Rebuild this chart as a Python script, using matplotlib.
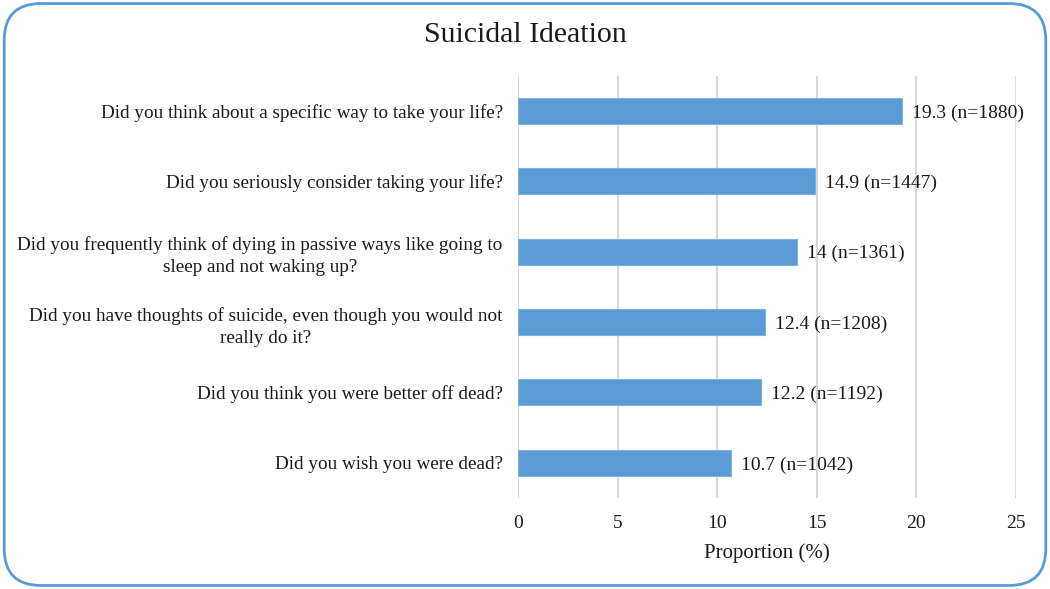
import matplotlib
matplotlib.use("Agg")
import matplotlib.pyplot as plt
from matplotlib.patches import FancyBboxPatch

categories = [
    "Did you think about a specific way to take your life?",
    "Did you seriously consider taking your life?",
    "Did you frequently think of dying in passive ways like going to\nsleep and not waking up?",
    "Did you have thoughts of suicide, even though you would not\nreally do it?",
    "Did you think you were better off dead?",
    "Did you wish you were dead?",
]
values = [19.3, 14.9, 14.0, 12.4, 12.2, 10.7]
counts = [1880, 1447, 1361, 1208, 1192, 1042]
value_labels = ["19.3", "14.9", "14", "12.4", "12.2", "10.7"]
xticks = [0, 5, 10, 15, 20, 25]

plt.rcParams['font.family'] = ['Liberation Serif', 'DejaVu Serif']

fig = plt.figure(figsize=(10.5, 5.89), dpi=100)
ax = fig.add_axes([0.4933, 0.1545, 0.4743, 0.7168])

ypos = list(range(len(categories)))
ax.barh(ypos, values, height=0.37, color='#5B9BD5', edgecolor='#7FB2E0', linewidth=0.8, zorder=3)
for y, v, lab, n in zip(ypos, values, value_labels, counts):
    ax.text(v + 0.5, y, f"{lab} (n={n})", va='center_baseline', ha='left', fontsize=14, color='#1a1a1a')

ax.set_yticks(ypos)
ax.set_yticklabels(categories, fontsize=13.8, color='#1a1a1a')
for lbl in ax.get_yticklabels():
    lbl.set_multialignment('center')
    lbl.set_linespacing(1.4)
ax.set_ylim(len(categories) - 0.5, -0.5)
ax.set_xlim(0, 25)
ax.set_xticks(xticks)
ax.set_xticklabels([str(t) for t in xticks], fontsize=14, color='#1a1a1a')
ax.tick_params(axis='both', length=0)
ax.tick_params(axis='x', pad=12)
ax.tick_params(axis='y', pad=11)
ax.grid(axis='x', color='#D9D9D9', linewidth=1.5, zorder=0)
for s in ax.spines.values():
    s.set_visible(False)
ax.set_xlabel("Proportion (%)", fontsize=15, color='#1a1a1a', labelpad=8)

fig.text(0.5, 0.94, "Suicidal Ideation", ha='center', va='center', fontsize=21.5, color='#1a1a1a')

border = FancyBboxPatch((0.004, 0.006), 0.992, 0.988, boxstyle="round,pad=0,rounding_size=0.035",
                        transform=fig.transFigure, fill=False, edgecolor='#5B9BD5', linewidth=2,
                        mutation_aspect=1.78)
fig.patches.append(border)

fig.savefig("out.png", dpi=100)
